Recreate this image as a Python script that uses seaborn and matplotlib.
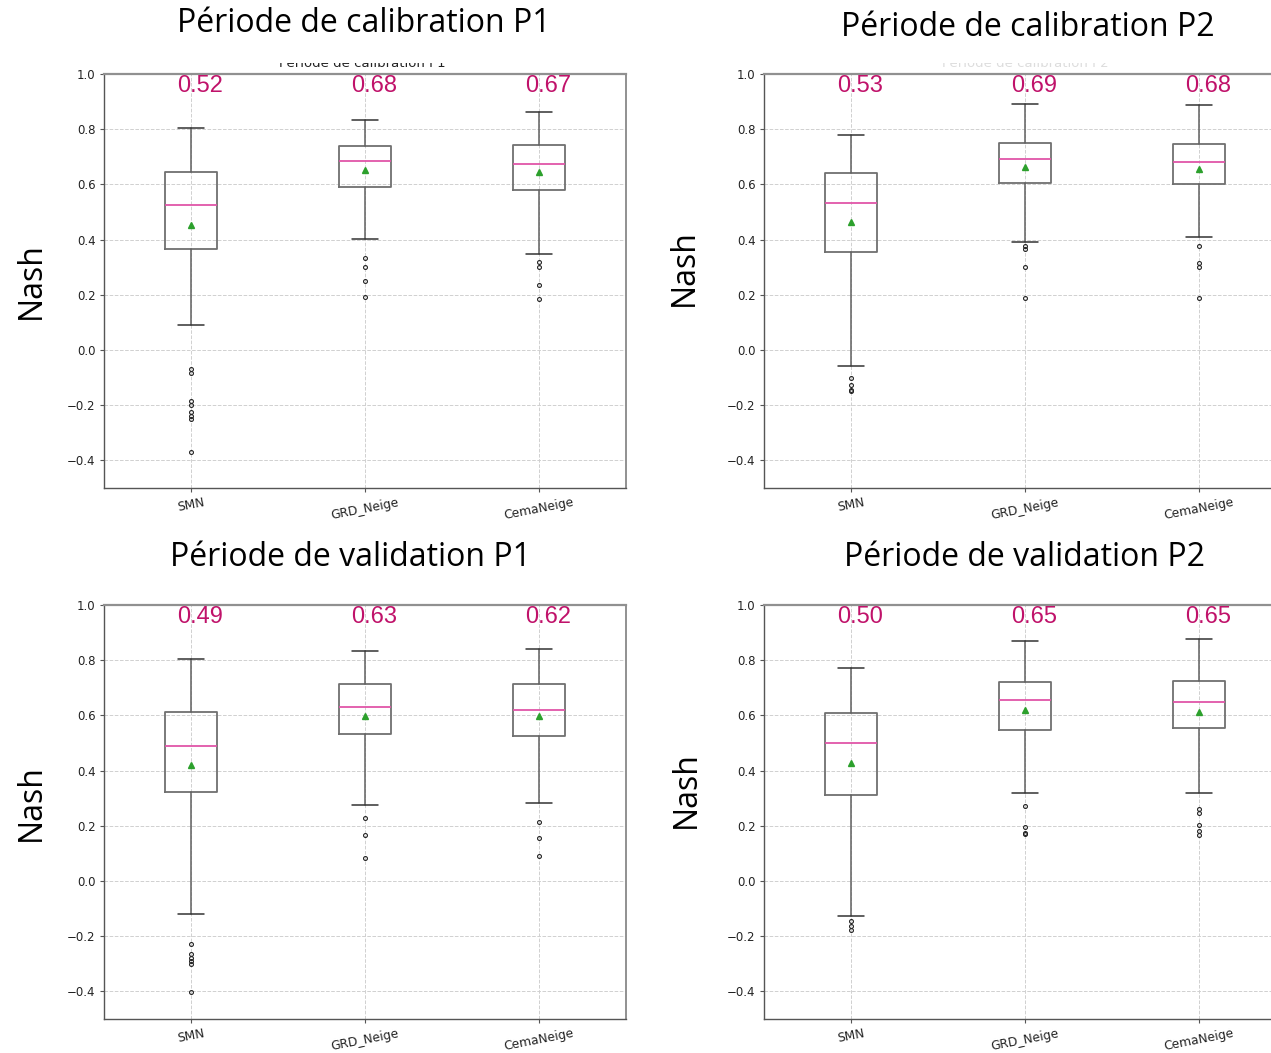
import numpy as np
import matplotlib
matplotlib.use("Agg")
import matplotlib.pyplot as plt
from matplotlib.patches import Rectangle
import seaborn as sns

models = ["SMN", "GRD_Neige", "CemaNeige"]
titles = ["Période de calibration P1", "Période de calibration P2",
          "Période de validation P1", "Période de validation P2"]

# statistics per panel (rows) and per model (columns)
whishi = [[0.806, 0.835, 0.864], [0.779, 0.891, 0.887],
          [0.804, 0.834, 0.841], [0.770, 0.871, 0.878]]
q3 = [[0.644, 0.738, 0.741], [0.643, 0.751, 0.748],
      [0.613, 0.714, 0.714], [0.607, 0.720, 0.726]]
med = [[0.524, 0.684, 0.673], [0.532, 0.691, 0.682],
       [0.490, 0.631, 0.620], [0.500, 0.654, 0.648]]
mean = [[0.452, 0.651, 0.644], [0.462, 0.664, 0.657],
        [0.421, 0.598, 0.598], [0.427, 0.618, 0.614]]
q1 = [[0.365, 0.590, 0.579], [0.356, 0.606, 0.603],
      [0.321, 0.533, 0.526], [0.310, 0.548, 0.554]]
whislo = [[0.090, 0.401, 0.347], [-0.059, 0.390, 0.408],
          [-0.118, 0.277, 0.284], [-0.125, 0.319, 0.319]]
fliers = [
    [[-0.07, -0.085, -0.185, -0.20, -0.225, -0.24, -0.25, -0.37],
     [0.333, 0.30, 0.25, 0.192],
     [0.318, 0.30, 0.235, 0.184]],
    [[-0.102, -0.125, -0.145, -0.15],
     [0.376, 0.365, 0.30, 0.188],
     [0.377, 0.315, 0.30, 0.188]],
    [[-0.23, -0.266, -0.28, -0.29, -0.30, -0.403],
     [0.23, 0.165, 0.085],
     [0.212, 0.157, 0.092]],
    [[-0.146, -0.164, -0.179],
     [0.272, 0.197, 0.174, 0.169],
     [0.261, 0.247, 0.204, 0.18, 0.166]],
]
yticks = [-0.4, -0.2, 0.0, 0.2, 0.4, 0.6, 0.8, 1.0]

sns.set_style("whitegrid", {"grid.linestyle": "--", "grid.color": "#d0d0d0",
                            "axes.edgecolor": "#555555"})
plt.rcParams["font.family"] = ["DejaVu Sans"]

W, H = 1271, 1053
fig = plt.figure(figsize=(W / 100, H / 100), dpi=100)
fig.patch.set_facecolor("white")

# axes pixel boxes: left, top, right, bottom
boxes_px = [(104, 74, 626, 488), (764, 74, 1286, 488),
            (104, 605, 626, 1019), (764, 605, 1286, 1019)]
title_px = [(364, 23), (1028, 27), (350, 557), (1024, 557)]
nash_px = [(31, 281), (684, 268), (31, 803), (686, 790)]

for i in range(4):
    l, t, r, b = boxes_px[i]
    ax = fig.add_axes([l / W, 1 - b / H, (r - l) / W, (b - t) / H])
    stats = []
    for j in range(3):
        stats.append(dict(med=med[i][j], q1=q1[i][j], q3=q3[i][j],
                          whislo=whislo[i][j], whishi=whishi[i][j],
                          mean=mean[i][j], fliers=fliers[i][j], label=models[j]))
    ax.bxp(stats, positions=[1, 2, 3], widths=0.3, showmeans=True,
           boxprops=dict(color="#707070", linewidth=1.3),
           whiskerprops=dict(color="#606060", linewidth=1.1),
           capprops=dict(color="#333333", linewidth=1.1),
           medianprops=dict(color="#e055a8", linewidth=1.3),
           meanprops=dict(marker="^", markerfacecolor="#2ca02c",
                          markeredgecolor="#2ca02c", markersize=5),
           flierprops=dict(marker="o", markerfacecolor="none",
                           markeredgecolor="#222222", markersize=2.8,
                           markeredgewidth=0.8))
    ax.set_xlim(0.5, 3.5)
    ax.set_ylim(-0.5, 1.0)
    ax.set_yticks(yticks)
    ax.set_yticklabels([f"{v:.1f}".replace("-", "\u2212") for v in yticks],
                       fontsize=8.5, color="#222222")
    ax.set_xticks([1, 2, 3])
    ax.set_xticklabels(models, rotation=11, fontsize=8.8, color="#222222")
    ax.tick_params(axis="both", length=3, width=0.8, color="#555555",
                   bottom=True, left=True)
    ax.tick_params(axis="x", pad=2.5)
    ax.tick_params(axis="y", pad=3)
    ax.grid(True, linestyle="--", color="#d0d0d0", linewidth=0.7)
    for s in ax.spines.values():
        s.set_color("#555555")
        s.set_linewidth(1.0)
    ax.spines["top"].set_color("#909090")
    ax.spines["top"].set_linewidth(1.6)
    ax.spines["right"].set_color("#909090")
    ax.spines["right"].set_linewidth(1.4)
    for j in range(3):
        ax.text(j + 1.05, 0.955, f"{med[i][j]:.2f}", ha="center", va="center",
                fontsize=17, color="#c0126a", family="Liberation Sans")
    tx, ty = title_px[i]
    fig.text(tx / W, 1 - ty / H, titles[i], ha="center", va="center",
             fontsize=23, color="black", family="Open Sans", zorder=6)
    nx, ny = nash_px[i]
    fig.text(nx / W, 1 - ny / H, "Nash", ha="center", va="center",
             rotation=90, fontsize=23, color="black", family="Open Sans")

# partly hidden original small titles of the top panels
fig.text(362 / W, 1 - 70 / H, titles[0], ha="center", va="bottom",
         fontsize=9.5, color="#222222", zorder=3)
fig.text(1025 / W, 1 - 70 / H, titles[1], ha="center", va="bottom",
         fontsize=9.5, color="#dddddd", zorder=3)
fig.patches.append(Rectangle((0, 1 - 63 / H), 1, 63 / H,
                             transform=fig.transFigure, facecolor="white",
                             edgecolor="none", zorder=4))

fig.savefig("out.png", dpi=100, facecolor="white")
